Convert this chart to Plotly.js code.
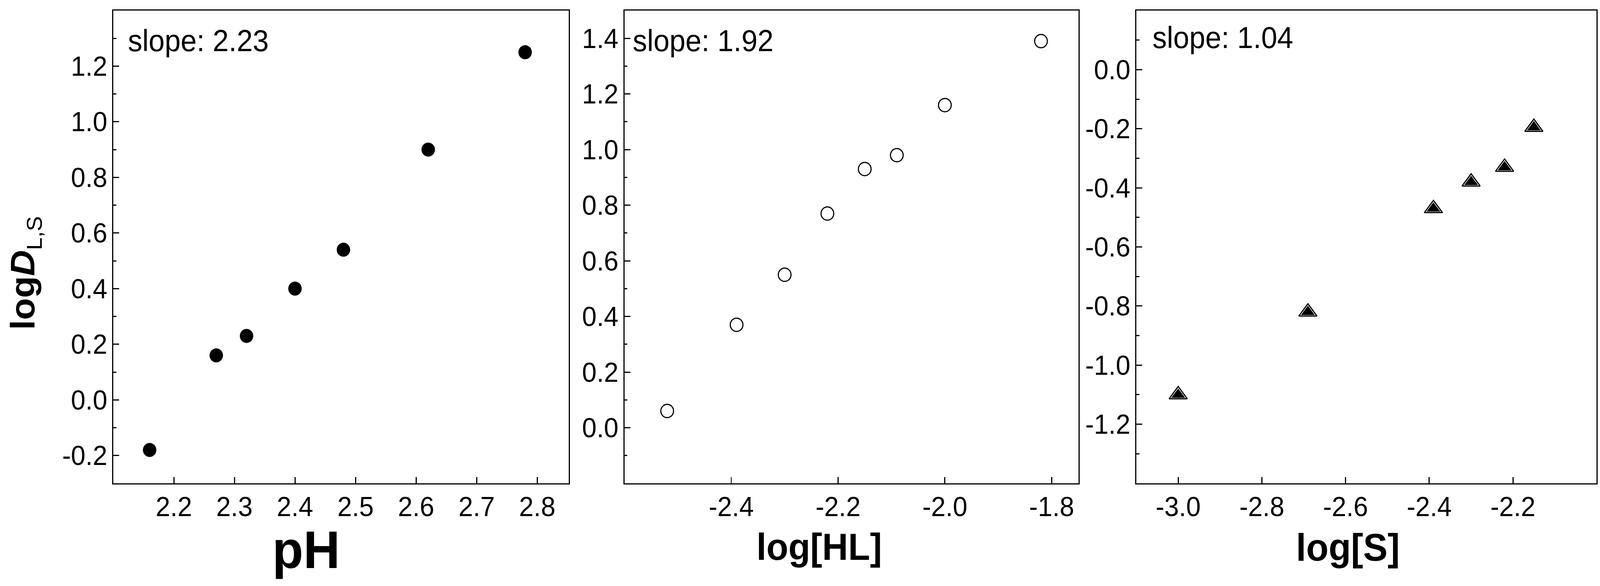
<!DOCTYPE html>
<html>
<head>
<meta charset="utf-8">
<script src="https://cdn.plot.ly/plotly-3.0.1.min.js"></script>
<style>
  html, body { margin: 0; padding: 0; background: #fff; overflow: hidden; }
  #chart { position: absolute; left: 0; top: 0; width: 4279px; height: 1501px; transform-origin: 0 0; }
</style>
</head>
<body>
<div id="chart"></div>
<script>
// panel 1: logD vs pH
const phX = [2.16, 2.27, 2.32, 2.40, 2.48, 2.62, 2.78];
const phY = [-0.18, 0.16, 0.23, 0.40, 0.54, 0.90, 1.25];
// panel 2: logD vs log[HL]
const hlX = [-2.52, -2.39, -2.30, -2.22, -2.15, -2.09, -2.00, -1.82];
const hlY = [0.06, 0.37, 0.55, 0.77, 0.93, 0.98, 1.16, 1.39];
// panel 3: logD vs log[S]
const sX = [-3.00, -2.69, -2.39, -2.30, -2.22, -2.15];
const sY = [-1.10, -0.82, -0.47, -0.38, -0.33, -0.195];

const slopes = ['2.23', '1.92', '1.04'];

// tick labels
const phTicks = [2.2, 2.3, 2.4, 2.5, 2.6, 2.7, 2.8];
const hlTicks = [-2.4, -2.2, -2.0, -1.8];
const sTicks = [-3.0, -2.8, -2.6, -2.4, -2.2];
const y1Ticks = [-0.2, 0.0, 0.2, 0.4, 0.6, 0.8, 1.0, 1.2];
const y2Ticks = [0.0, 0.2, 0.4, 0.6, 0.8, 1.0, 1.2, 1.4];
const y3Ticks = [-1.2, -1.0, -0.8, -0.6, -0.4, -0.2, 0.0];

const W = 4279, H = 1501;
const fx = (px) => px / W;
const fy = (py) => 1 - py / H;
const FONT = 'Liberation Sans, Arial, sans-serif';

// the browser viewport can be narrower than the figure: fit the figure to it
const chartDiv = document.getElementById('chart');
const vw = window.innerWidth || W, vh = window.innerHeight || H;
if (vw !== W || vh !== H)
    chartDiv.style.transform = 'scale(' + (vw / W) + ',' + (vh / H) + ')';

function axis(extra) {
    let base = {
        showline: true, linecolor: 'black', linewidth: 3, mirror: true,
        ticks: 'inside', ticklen: 16, tickwidth: 3, tickcolor: 'black',
        showgrid: false, zeroline: false, fixedrange: true,
        tickmode: 'array',
        tickfont: { family: FONT, size: 70, color: 'black' }
    };
    return Object.assign(base, extra);
}

function xax(dom, range, ticks, anchor) {
    return axis({
        domain: [fx(dom[0]), fx(dom[1])], range: range, anchor: anchor,
        tickvals: ticks, ticktext: ticks.map(v => v.toFixed(1)),
        ticklabelstandoff: -3
    });
}

function yax(range, ticks, anchor) {
    return axis({
        domain: [fy(1238), fy(27)], range: range, anchor: anchor,
        tickvals: ticks, ticktext: ticks.map(v => v.toFixed(1)),
        ticklabelstandoff: -1,
        minor: { tickmode: 'linear', tick0: 0, dtick: 0.1, ticks: 'inside', ticklen: 8, tickwidth: 3, tickcolor: 'black', showgrid: false }
    });
}

let traces = [
    {
        x: phX, y: phY, xaxis: 'x', yaxis: 'y', type: 'scatter', mode: 'markers',
        marker: { symbol: 'circle', size: 36, color: 'black' }
    },
    {
        x: hlX, y: hlY, xaxis: 'x2', yaxis: 'y2', type: 'scatter', mode: 'markers',
        marker: { symbol: 'circle-open', size: 34, color: 'black', line: { width: 3, color: 'black' } }
    },
    {
        x: sX, y: sY, xaxis: 'x3', yaxis: 'y3', type: 'scatter', mode: 'markers',
        marker: { symbol: 'triangle-up', size: 42, color: 'white', line: { width: 3, color: 'black' } }
    },
    {
        x: sX, y: sY, xaxis: 'x3', yaxis: 'y3', type: 'scatter', mode: 'markers',
        marker: { symbol: 'triangle-up', size: 32, color: 'black', line: { width: 0 } }
    }
];

function ann(text, x, y, size, opts) {
    return Object.assign({
        text: text, xref: 'paper', yref: 'paper', x: fx(x), y: fy(y),
        showarrow: false, font: { family: FONT, size: size, color: 'black' }
    }, opts || {});
}

let layout = {
    width: W, height: H,
    margin: { l: 0, r: 0, t: 0, b: 0 },
    paper_bgcolor: 'white', plot_bgcolor: 'white',
    showlegend: false,
    xaxis: xax([303, 1521], [2.1, 2.852], phTicks, 'y'),
    yaxis: yax([-0.3, 1.4], y1Ticks, 'x'),
    xaxis2: xax([1670, 2884], [-2.6, -1.75], hlTicks, 'y2'),
    yaxis2: yax([-0.2, 1.5], y2Ticks, 'x2'),
    xaxis3: xax([3039, 4270], [-3.1, -2.0], sTicks, 'y3'),
    yaxis3: yax([-1.4, 0.2], y3Ticks, 'x3'),
    annotations: [
        ann('slope: ' + slopes[0], 340, 104, 77, { xanchor: 'left', yanchor: 'middle' }),
        ann('slope: ' + slopes[1], 1690, 104, 77, { xanchor: 'left', yanchor: 'middle' }),
        ann('slope: ' + slopes[2], 3080, 96, 77, { xanchor: 'left', yanchor: 'middle' }),
        ann('<b>pH</b>', 818, 1408, 136, { xanchor: 'center', yanchor: 'middle' }),
        ann('<b>log[HL]</b>', 2191, 1400, 96, { xanchor: 'center', yanchor: 'middle' }),
        ann('<b>log[S]</b>', 3605, 1402, 98, { xanchor: 'center', yanchor: 'middle' }),
        ann('<b>log<i>D</i></b><sub><span style="font-size:58px">L,S</span></sub>', 66, 700, 92,
            { xanchor: 'center', yanchor: 'middle', textangle: -90 })
    ]
};

Plotly.newPlot('chart', traces, layout, { displayModeBar: false, staticPlot: true });
</script>
</body>
</html>
